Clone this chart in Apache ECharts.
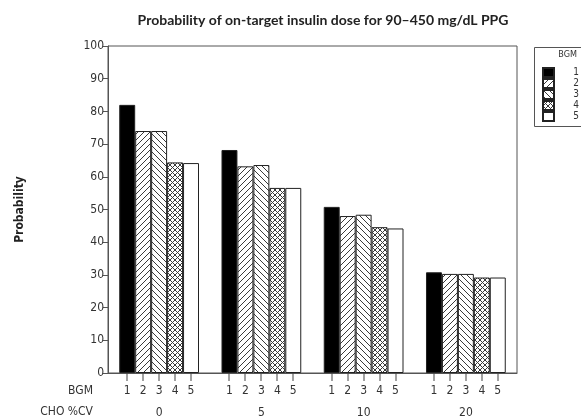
<!DOCTYPE html>
<html>
<head>
<meta charset="utf-8">
<script src="https://cdn.jsdelivr.net/npm/echarts@6/dist/echarts.min.js"></script>
<style>
  html, body { margin: 0; padding: 0; background: #fff; }
  #chart { width: 581px; height: 420px; }
</style>
</head>
<body>
<div id="chart"></div>
<script>
// CHO coefficient of variation groups (%CV)
const choCV = ['0', '5', '10', '20'];
// BGM levels, one bar series each
const bgmLevels = ['1', '2', '3', '4', '5'];
// Probability of on-target insulin dose, per BGM level across CHO %CV groups
const bgm1 = [82.0, 68.2, 50.8, 30.8];
const bgm2 = [74.0, 63.2, 48.0, 30.3];
const bgm3 = [74.0, 63.6, 48.4, 30.3];
const bgm4 = [64.4, 56.6, 44.6, 29.2];
const bgm5 = [64.2, 56.6, 44.2, 29.2];
const yTicks = { min: 0, max: 100, interval: 10 };

const seriesValues = [bgm1, bgm2, bgm3, bgm4, bgm5];
const FONT = "'DejaVu Sans Condensed', 'DejaVu Sans', sans-serif";
const INK = '#333';
const BAR_GAP = '0%';
const CATEGORY_GAP = '22%';

// Small repeating fill tiles for the hatched bars
function hatchTile(kind, step) {
  const c = document.createElement('canvas');
  c.width = step; c.height = step;
  const ctx = c.getContext('2d');
  ctx.fillStyle = '#fff';
  ctx.fillRect(0, 0, step, step);
  ctx.strokeStyle = '#3a3a3a';
  ctx.lineWidth = 1;
  ctx.beginPath();
  for (const o of [-step, 0, step]) {
    if (kind === 'fwd' || kind === 'cross') {
      ctx.moveTo(o, step); ctx.lineTo(o + step, 0);
    }
    if (kind === 'back' || kind === 'cross') {
      ctx.moveTo(o, 0); ctx.lineTo(o + step, step);
    }
  }
  ctx.stroke();
  return { image: c, repeat: 'repeat' };
}

const fills = [
  '#000',
  hatchTile('fwd', 6),
  hatchTile('back', 6),
  hatchTile('cross', 5),
  '#fff'
];

// Bars, each carrying its BGM level as a label under the axis
const series = bgmLevels.map((lvl, i) => ({
  name: lvl,
  type: 'bar',
  data: seriesValues[i],
  barGap: BAR_GAP,
  barCategoryGap: CATEGORY_GAP,
  itemStyle: { color: fills[i], borderColor: '#222', borderWidth: 1 },
  emphasis: { disabled: true },
  label: {
    show: true,
    position: ['50%', '100%'],
    align: 'center',
    verticalAlign: 'top',
    distance: 0,
    offset: [0, 12],
    fontFamily: FONT,
    fontSize: 12,
    color: INK,
    formatter: () => lvl
  }
}));

// Short tick below the axis at the centre of every bar, using the axis' bar layout
series.push({
  name: 'bgmTicks',
  type: 'custom',
  silent: true,
  clip: false,
  z: 5,
  data: choCV.map((c, idx) => [idx]),
  renderItem: (params, api) => {
    const base = api.coord([api.value(0), 0]);
    const layout = api.barLayout({ count: bgmLevels.length, barGap: BAR_GAP, barCategoryGap: CATEGORY_GAP });
    return {
      type: 'group',
      children: layout.map(l => ({
        type: 'rect',
        shape: { x: Math.round(base[0] + l.offsetCenter) - 0.5, y: base[1], width: 1, height: 8 },
        style: { fill: '#444' }
      }))
    };
  }
});

const chart = echarts.init(document.getElementById('chart'), null, { renderer: 'canvas' });
chart.setOption({
  animation: false,
  backgroundColor: '#fff',
  title: {
    text: 'Probability of on-target insulin dose for 90\u2013450 mg/dL PPG',
    left: 318,
    top: 8,
    textAlign: 'center',
    textStyle: { fontFamily: 'Lato, sans-serif', fontSize: 14, fontWeight: 'bold', color: '#222' }
  },
  grid: {
    left: 108, right: 64, top: 46, bottom: 47,
    show: true, borderColor: '#555', borderWidth: 1, backgroundColor: 'transparent'
  },
  legend: {
    orient: 'vertical',
    left: 537,
    top: 62,
    itemWidth: 11,
    itemHeight: 9,
    itemGap: 0,
    icon: 'rect',
    data: bgmLevels,
    selectedMode: false,
    formatter: '{r|{name}}',
    textStyle: {
      fontFamily: FONT, fontSize: 10, color: INK, lineHeight: 11,
      rich: { r: { width: 20, align: 'right', fontFamily: FONT, fontSize: 10, color: INK, lineHeight: 11 } }
    }
  },
  xAxis: {
    type: 'category',
    data: choCV,
    axisLine: { lineStyle: { color: '#555' } },
    axisTick: { show: false },
    axisLabel: { margin: 34, fontFamily: FONT, fontSize: 12, color: INK }
  },
  yAxis: {
    type: 'value',
    min: yTicks.min, max: yTicks.max, interval: yTicks.interval,
    name: 'Probability',
    nameLocation: 'middle',
    nameGap: 82,
    nameTextStyle: { fontFamily: FONT, fontSize: 12, fontWeight: 'bold', color: '#222' },
    splitLine: { show: false },
    axisLine: { show: true, lineStyle: { color: '#555' } },
    axisTick: { show: true, length: 5, lineStyle: { color: '#555' } },
    axisLabel: { margin: 4, fontFamily: FONT, fontSize: 12, color: INK }
  },
  graphic: [
    { type: 'rect', left: 532, top: 45, shape: { width: 60, height: 79 },
      style: { fill: 'none', stroke: '#555', lineWidth: 1 }, silent: true },
    { type: 'text', right: 4, top: 50,
      style: { text: 'BGM', font: '9px ' + FONT, fill: INK } },
    { type: 'text', right: 488, top: 385,
      style: { text: 'BGM', font: '12px ' + FONT, fill: INK } },
    { type: 'text', right: 488, top: 406,
      style: { text: 'CHO %CV', font: '12px ' + FONT, fill: INK } }
  ],
  series: series
});
</script>
</body>
</html>
